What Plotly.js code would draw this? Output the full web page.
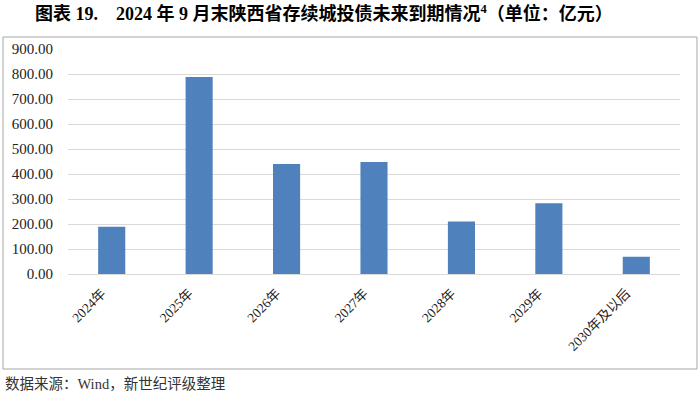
<!DOCTYPE html>
<html><head><meta charset="utf-8">
<script src="https://cdn.plot.ly/plotly-3.0.1.min.js"></script>
<style>html,body{margin:0;padding:0;background:#fff;}#chart{width:700px;height:394px;}</style>
</head><body><div id="chart"></div>
<script>
const categories = ["2024年","2025年","2026年","2027年","2028年","2029年","2030年及以后"];
const values = [189, 788, 440, 448, 210, 283, 69];
const yTicks = [0,100,200,300,400,500,600,700,800,900];
const yTickLabels = ["0.00","100.00","200.00","300.00","400.00","500.00","600.00","700.00","800.00","900.00"];
const titleText = "图表 19.&nbsp;&nbsp;&nbsp; 2024 年 9 月末陕西省存续城投债未来到期情况<sup>4</sup>（单位：亿元）";
const sourceText = "数据来源：Wind，新世纪评级整理";

const W = 700, H = 394, L = 68, R = 20, T = 49, B = 120;
const pw = W - L - R, ph = H - T - B;
const px = x => (x - L) / pw;
const py = y => (H - B - y) / ph;
const serif = "Liberation Serif, Times New Roman, Noto Sans CJK SC, serif";

Plotly.newPlot('chart', [{
  type: 'bar', x: categories, y: values,
  marker: {color: '#4f81bd'}, hoverinfo: 'none'
}], {
  width: W, height: H,
  margin: {l: L, r: R, t: T, b: B, pad: 0},
  paper_bgcolor: '#fff', plot_bgcolor: '#fff',
  bargap: 0.69,
  showlegend: false,
  title: {text: titleText, x: 35/W, xanchor: 'left', xref: 'container', yref: 'container', y: 1 - 14/H, yanchor: 'middle',
    font: {family: "Liberation Serif, Noto Sans CJK SC, serif", size: 18, color: '#000', weight: 'bold'}},
  xaxis: {type: 'category', tickangle: -45, tickfont: {family: serif, size: 13.5, color: '#222'},
    showgrid: false, showline: false, ticks: '', zeroline: false, automargin: false,
    ticklabelstandoff: 8, ticklabelshift: -10},
  yaxis: {range: [0, 900], tickvals: yTicks, ticktext: yTickLabels, tickfont: {family: serif, size: 15, color: '#222'},
    showgrid: true, gridcolor: '#d9d9d9', gridwidth: 1, zeroline: true, zerolinecolor: '#d9d9d9', zerolinewidth: 1,
    showline: false, ticks: '', ticklabelstandoff: 14, automargin: false},
  shapes: [{type: 'rect', xref: 'paper', yref: 'paper', x0: px(3), x1: px(697), y0: py(369), y1: py(37),
    line: {color: '#a6a6a6', width: 1}, fillcolor: 'rgba(0,0,0,0)', layer: 'below'}],
  annotations: [{text: sourceText, xref: 'paper', yref: 'paper', x: px(3), y: py(384), xanchor: 'left', yanchor: 'middle',
    showarrow: false, font: {family: serif, size: 14.5, color: '#333'}}]
}, {displayModeBar: false, staticPlot: true});
</script></body></html>
